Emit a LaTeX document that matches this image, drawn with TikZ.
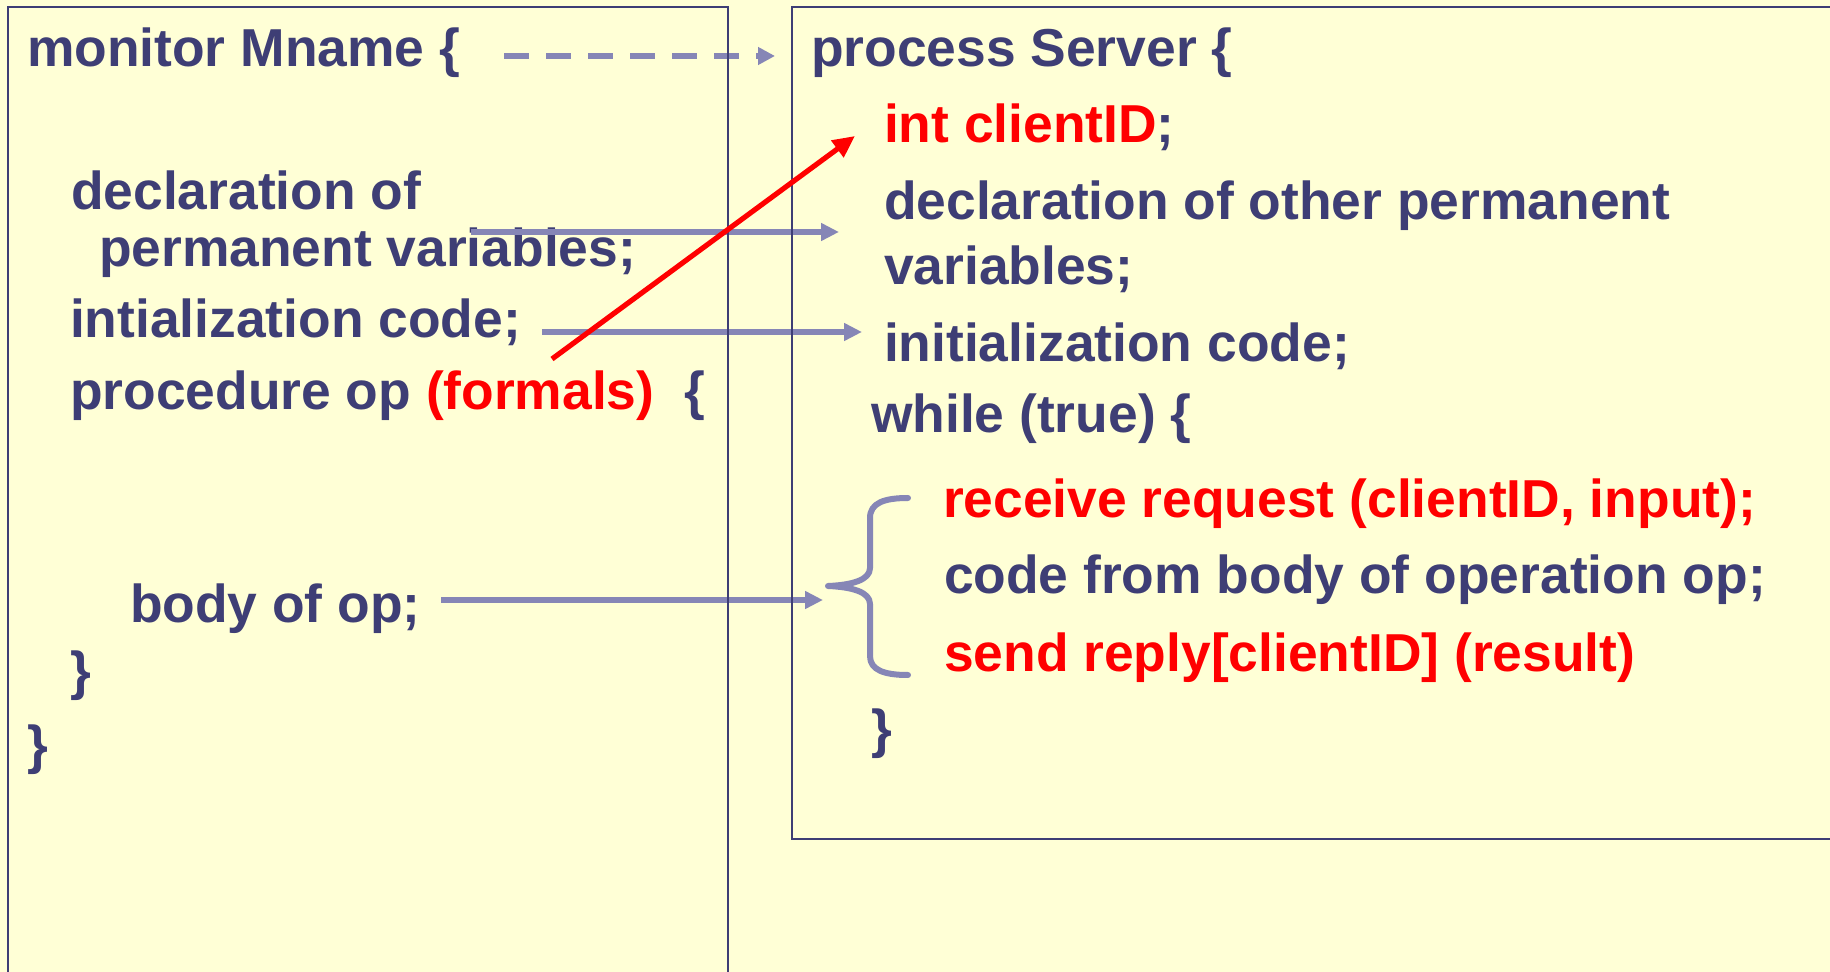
\documentclass[tikz,border=0pt]{standalone}
\usepackage{fontspec}
\setmainfont{Liberation Sans}
\usetikzlibrary{arrows.meta}

\definecolor{paper}{HTML}{FFFFD6}
\definecolor{ink}{HTML}{3E3E75}
\definecolor{lav}{HTML}{8686B6}
\definecolor{hot}{HTML}{FF0000}

\begin{document}
\begin{tikzpicture}[x=0.5pt,y=-0.5pt,
  txt/.style={anchor=base west,inner sep=0pt,outer sep=0pt,text=ink,
    font=\fontsize{26.7}{30}\selectfont\bfseries},
  redtxt/.style={txt,text=hot},
  link/.style={draw=lav,line width=2.75pt,-{Triangle[length=9pt,width=8.5pt]}},
  dashlink/.style={draw=lav,line width=2.75pt,dash pattern=on 12.5pt off 8.5pt,
    -{Triangle[length=8.5pt,width=8.5pt]}},
  hotlink/.style={draw=hot,line width=2.6pt,-{Triangle[length=11pt,width=10pt]}},
  frame/.style={draw=ink,line width=0.8pt}
]
% page
\fill[paper] (0,0) rectangle (1830,972);
\useasboundingbox (0,0) rectangle (1830,972);

% ---- monitor side ----
\node[txt] (mon)   at (27,67)  {monitor Mname \{};
\node[txt] (decl)  at (71,210) {declaration of};
\node[txt] (perm)  at (99,267) {permanent variables;};
\node[txt] (init)  at (70,338) {intialization code;};
\node[txt] (proc)  at (70,410) {procedure op};
\node[redtxt] (formals) at ([xshift=7.4pt]proc.base east) {(formals)};
\node[txt] (popen) at ([xshift=15pt]formals.base east) {\{};
\node[txt] (body)  at (130,622) {body of op;};
\node[txt] (pclose) at (70,689) {\}};
\node[txt] (mclose) at (27,763) {\}};

% ---- server side ----
\node[txt] (srv)   at (811,67)  {process Server \{};
\node[redtxt] (cid) at (884,143) {int clientID};
\node[txt] (semi)  at (cid.base east) {;};
\node[txt] (odecl) at (884,220) {declaration of other permanent};
\node[txt] (ovars) at (884,285) {variables;};
\node[txt] (oinit) at (884,362) {initialization code;};
\node[txt] (loop)  at (871,433) {while (true) \{};
\node[redtxt] (recv) at (943,517) {receive request (clientID, input);};
\node[txt] (code)  at (944,593) {code from body of operation op;};
\node[redtxt] (send) at (944,671) {send reply[clientID] (result)};
\node[txt] (lclose) at (871,747) {\}};

% ---- connector end points ----
\coordinate (dashS) at (504,56);
\coordinate (dashE) at (775,56);
\coordinate (permS) at (471,232);
\coordinate (permE) at (839,232);
\coordinate (initS) at (542,332);
\coordinate (initE) at (862,332);
\coordinate (bodyS) at (441,600);
\coordinate (bodyE) at (823,600);
\coordinate (fmlS)  at (552,359);
\coordinate (fmlE)  at (855,136);

% correspondence arrows
\draw[dashlink] (dashS) -- (dashE);
\draw[link] (permS) -- (permE);
\draw[link] (initS) -- (initE);
\draw[link] (bodyS) -- (bodyE);

% curly brace grouping the loop body
\draw[lav,line width=3pt,line cap=round,line join=round]
  (908,498) .. controls (884,498) and (870,503) .. (870,518)
  -- (870,568) .. controls (870,580) and (852,585) .. (828,586)
  .. controls (852,587) and (870,592) .. (870,604)
  -- (870,656) .. controls (870,670) and (884,675) .. (908,675);

% the two frames
\draw[frame] (728,990) -- (728,7) -- (8,7) -- (8,990);
\draw[frame] (1840,7) -- (792,7) -- (792,839) -- (1840,839);
\draw[ink,line width=1.2pt] (792,839) -- (1840,839);

% formals become the client identifier
\draw[hotlink] (fmlS) -- (fmlE);
\end{tikzpicture}
\end{document}
